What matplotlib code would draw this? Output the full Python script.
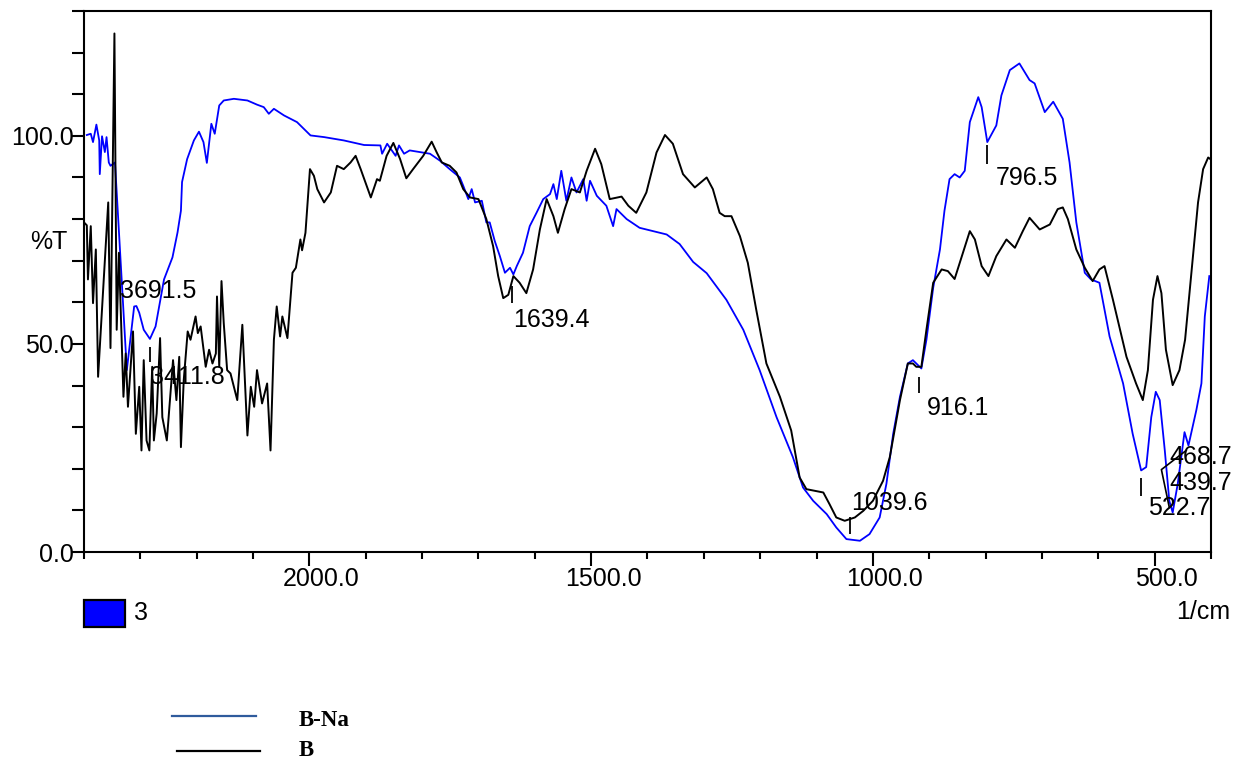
import matplotlib
matplotlib.use("Agg")
import matplotlib.pyplot as plt
from matplotlib.patches import Rectangle
from matplotlib.lines import Line2D
from matplotlib.ticker import MultipleLocator, FixedLocator
from matplotlib.transforms import ScaledTranslation

plt.rcParams['font.family'] = ['Liberation Sans', 'DejaVu Sans']

# B-Na spectrum (blue)
bna_wn = [2395, 2388, 2384, 2378, 2373, 2372, 2368, 2363, 2360, 2356,
          2353, 2345, 2324, 2311, 2307, 2302, 2294, 2283, 2273, 2258,
          2243, 2234, 2228, 2226, 2217, 2205, 2196, 2188, 2182, 2174,
          2168, 2160, 2152, 2134, 2110, 2093, 2081, 2072, 2063, 2045,
          2022, 1998, 1974, 1939, 1903, 1874, 1871, 1862, 1847, 1841,
          1832, 1822, 1804, 1786, 1768, 1751, 1733, 1727, 1718, 1712,
          1706, 1694, 1686, 1680, 1671, 1662, 1653, 1644, 1638, 1632,
          1621, 1609, 1597, 1585, 1573, 1567, 1561, 1553, 1544, 1535,
          1526, 1514, 1508, 1502, 1490, 1473, 1461, 1455, 1437, 1414,
          1390, 1366, 1343, 1319, 1295, 1260, 1230, 1201, 1171, 1142,
          1124, 1106, 1082, 1065, 1047, 1023, 1006, 988, 976, 964,
          952, 938, 929, 914, 905, 893, 881, 873, 864, 855,
          846, 837, 828, 813, 807, 797, 781, 772, 757, 740,
          722, 713, 695, 680, 663, 651, 639, 624, 613, 598,
          580, 556, 539, 524, 515, 506, 498, 491, 482, 474,
          468, 459, 447, 440, 426, 417, 411, 403]
bna_t = [100.2, 100.5, 98.5, 102.7, 98.9, 90.8, 99.9, 96.1, 99.7, 93.6,
         92.8, 93.6, 43.7, 59.0, 59.1, 57.5, 53.4, 51.2, 54.2, 65.5,
         70.8, 76.8, 82.0, 88.9, 94.4, 98.9, 101.0, 98.5, 93.5, 102.9,
         100.5, 107.3, 108.5, 108.9, 108.5, 107.5, 106.9, 105.3, 106.5, 104.9,
         103.3, 100.1, 99.7, 98.9, 97.8, 97.7, 95.7, 98.1, 95.2, 97.7,
         95.7, 96.5, 96.1, 95.7, 94.0, 92.0, 90.0, 88.0, 84.8, 87.2,
         84.0, 84.4, 79.2, 79.2, 74.7, 71.1, 67.1, 68.3, 66.7, 68.7,
         71.9, 78.3, 81.5, 84.8, 86.0, 88.4, 84.8, 91.6, 84.4, 90.0,
         86.4, 89.6, 84.4, 89.2, 85.6, 83.2, 78.3, 82.4, 80.0, 77.9,
         77.1, 76.3, 74.0, 69.7, 67.0, 60.6, 53.4, 43.7, 32.4, 22.8,
         15.5, 12.3, 9.1, 5.9, 3.1, 2.7, 4.3, 8.3, 16.4, 28.4,
         37.3, 45.3, 46.1, 44.1, 51.0, 63.5, 72.7, 82.0, 89.6, 90.8,
         90.0, 91.6, 103.3, 109.3, 106.9, 98.5, 102.5, 109.7, 115.8, 117.4,
         113.4, 112.6, 105.7, 108.2, 104.1, 93.6, 79.2, 67.1, 65.5, 64.7,
         51.8, 40.5, 28.4, 19.6, 20.4, 32.4, 38.5, 36.5, 24.4, 12.3,
         9.5, 16.4, 28.8, 25.6, 34.1, 40.5, 56.6, 66.3]

# B spectrum (black)
b_wn = [2400, 2395, 2393, 2388, 2384, 2379, 2375, 2357, 2353, 2346,
        2342, 2338, 2330, 2326, 2322, 2313, 2308, 2302, 2298, 2294,
        2289, 2284, 2279, 2276, 2271, 2265, 2261, 2253, 2247, 2242,
        2236, 2231, 2228, 2223, 2216, 2211, 2202, 2198, 2193, 2184,
        2178, 2172, 2166, 2164, 2160, 2156, 2152, 2146, 2140, 2128,
        2119, 2110, 2104, 2098, 2093, 2084, 2075, 2069, 2063, 2058,
        2052, 2048, 2039, 2030, 2024, 2016, 2013, 2007, 1999, 1992,
        1986, 1974, 1962, 1951, 1939, 1927, 1918, 1909, 1891, 1880,
        1875, 1863, 1851, 1839, 1828, 1816, 1798, 1783, 1774, 1765,
        1751, 1739, 1727, 1715, 1700, 1686, 1674, 1665, 1656, 1647,
        1638, 1627, 1615, 1603, 1591, 1579, 1567, 1559, 1547, 1535,
        1520, 1508, 1493, 1482, 1467, 1446, 1434, 1420, 1402, 1384,
        1369, 1355, 1337, 1316, 1295, 1284, 1272, 1263, 1251, 1236,
        1222, 1207, 1189, 1165, 1145, 1130, 1118, 1088, 1077, 1065,
        1050, 1032, 1017, 1000, 982, 970, 952, 938, 929, 923,
        914, 905, 893, 878, 867, 855, 828, 819, 807, 795,
        781, 763, 748, 734, 722, 704, 686, 672, 663, 654,
        639, 624, 610, 598, 589, 574, 550, 533, 521, 512,
        503, 495, 488, 480, 468, 456, 446, 432, 423, 414,
        405, 402]
b_t = [79.2, 78.5, 65.5, 78.3, 59.8, 72.7, 42.1, 84.0, 49.0, 124.6,
       53.4, 71.9, 37.3, 47.7, 34.9, 53.0, 28.4, 39.7, 24.4, 46.1,
       26.8, 24.4, 44.5, 26.8, 33.3, 51.4, 32.4, 26.8, 37.3, 46.1,
       36.5, 46.9, 25.2, 41.3, 53.0, 51.0, 56.6, 52.6, 54.2, 44.5,
       48.6, 45.3, 47.7, 61.4, 44.5, 65.1, 55.0, 43.7, 42.9, 36.5,
       54.6, 28.0, 39.7, 34.9, 43.7, 35.7, 40.5, 24.4, 51.0, 59.0,
       51.8, 56.6, 51.4, 67.1, 68.3, 75.1, 72.5, 76.7, 92.0, 90.4,
       87.2, 84.0, 86.4, 92.8, 92.0, 93.6, 95.2, 92.0, 85.2, 89.6,
       89.2, 95.2, 98.3, 94.4, 89.8, 92.0, 95.2, 98.6, 96.0, 93.6,
       92.8, 91.2, 87.2, 85.2, 84.8, 80.0, 73.5, 66.3, 61.0, 61.8,
       66.3, 64.7, 62.2, 67.9, 77.5, 84.8, 80.7, 76.7, 82.4, 87.2,
       86.4, 91.6, 96.9, 93.2, 84.8, 85.4, 83.2, 81.5, 86.4, 96.0,
       100.2, 98.1, 90.8, 87.6, 90.0, 87.2, 81.5, 80.7, 80.7, 75.9,
       69.5, 58.2, 45.3, 37.3, 29.2, 17.9, 15.1, 14.3, 11.5, 8.3,
       7.5, 8.3, 9.9, 12.3, 17.1, 22.8, 36.5, 45.3, 45.3, 44.5,
       44.5, 53.4, 64.7, 67.9, 67.5, 65.6, 77.1, 75.1, 68.7, 66.3,
       71.1, 75.1, 73.1, 77.1, 80.3, 77.5, 78.7, 82.4, 82.8, 80.0,
       72.7, 68.3, 65.1, 67.9, 68.7, 60.6, 46.9, 40.5, 36.5, 43.7,
       60.6, 66.3, 62.2, 48.6, 40.1, 43.7, 51.0, 71.1, 84.0, 92.0,
       94.8, 94.5]

# peak labels: text, left x (1/cm), centre y (%T)
peak_text = ["3691.5", "3411.8", "1639.4", "1039.6", "916.1", "796.5",
             "522.7", "439.7", "468.7"]
peak_text_x = [2336, 2283, 1639, 1038, 905, 782, 512, 474, 474]
peak_text_y = [62.7, 42.1, 55.8, 11.7, 34.7, 89.9, 10.5, 16.5, 22.9]
# small marker strokes under picked peaks
mark_x = [2283, 1640, 1041, 918, 797, 524]
mark_top = [49.3, 63.8, 8.3, 42.1, 97.7, 17.9]
mark_bot = [45.7, 59.8, 4.3, 38.1, 93.2, 13.5]
leader_x = [444, 488, 474]
leader_y = [24.4, 19.8, 10.7]

major_ticks = [2000, 1500, 1000, 500]
major_labels = ["2000.0", "1500.0", "1000.0", "500.0"]

W, H = 1240, 760
fig = plt.figure(figsize=(W / 100, H / 100), dpi=100)
ax = fig.add_axes([84 / W, 1 - 552 / H, (1211 - 84) / W, (552 - 11) / H])

ax.plot(bna_wn, bna_t, color='#0000ff', lw=1.3)
ax.plot(b_wn, b_t, color='black', lw=1.4)

ax.set_xlim(2400, 400)
ax.set_ylim(0, 130)

for s in ax.spines.values():
    s.set_linewidth(1.5)

ax.xaxis.set_major_locator(FixedLocator(major_ticks))
ax.set_xticklabels(major_labels)
ax.xaxis.set_minor_locator(MultipleLocator(100))
ax.yaxis.set_major_locator(FixedLocator([0, 50, 100]))
ax.set_yticklabels(["0.0", "50.0", "100.0"])
ax.yaxis.set_minor_locator(MultipleLocator(10))

ax.tick_params(axis='x', which='major', direction='out', length=10, width=1.5,
               labelsize=18, pad=1, top=False)
ax.tick_params(axis='x', which='minor', direction='out', length=5, width=1.5, top=False)
ax.tick_params(axis='y', which='both', direction='out', length=8.6, width=1.5,
               labelsize=18, pad=-1, right=False)

shift = ScaledTranslation(0.12, 0, fig.dpi_scale_trans)
for lab in ax.get_xticklabels():
    lab.set_transform(lab.get_transform() + shift)

# peak picks
for t, x, y in zip(peak_text, peak_text_x, peak_text_y):
    ax.text(x, y, t, fontsize=18, ha='left', va='center', color='black')
ax.vlines(mark_x, mark_bot, mark_top, color='black', lw=1.3)
ax.plot(leader_x, leader_y, color='black', lw=1.2)

fig.text(30 / W, 1 - 242 / H, "%T", fontsize=18, ha='left', va='center')
fig.text(1230 / W, 1 - 612 / H, "1/cm", fontsize=18, ha='right', va='center')

fig.patches.append(Rectangle((84 / W, 1 - 627 / H), 41 / W, 27 / H,
                             facecolor='#0000ff', edgecolor='black', lw=1.6,
                             transform=fig.transFigure, figure=fig))
fig.text(134 / W, 1 - 613 / H, "3", fontsize=18, ha='left', va='center')

fig.lines.append(Line2D([172 / W, 256 / W], [1 - 716 / H, 1 - 716 / H],
                        color='#2f5b9c', lw=1.6, transform=fig.transFigure))
fig.lines.append(Line2D([177 / W, 260 / W], [1 - 751 / H, 1 - 751 / H],
                        color='black', lw=1.6, transform=fig.transFigure))
fig.text(299 / W, 1 - 720 / H, "B-Na", fontsize=16.5, fontweight='bold',
         family=['Liberation Serif', 'DejaVu Serif'], ha='left', va='center')
fig.text(299 / W, 1 - 750 / H, "B", fontsize=16.5, fontweight='bold',
         family=['Liberation Serif', 'DejaVu Serif'], ha='left', va='center')

fig.savefig("out.png", dpi=100)
